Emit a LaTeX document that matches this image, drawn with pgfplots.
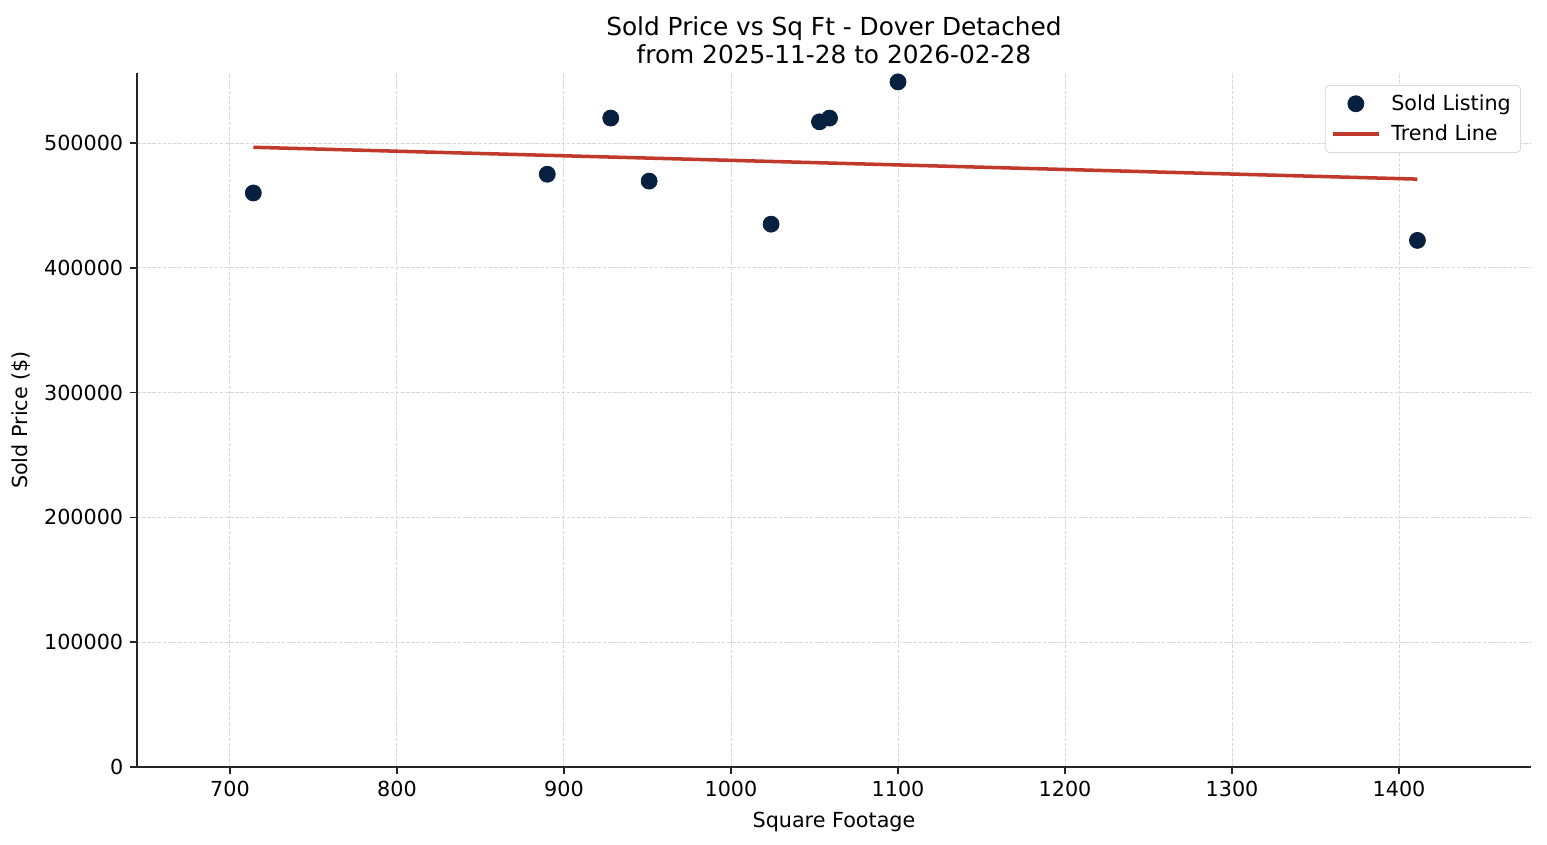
\documentclass[border=0pt]{standalone}
\usepackage{fontspec}
\setmainfont{DejaVu Sans}
\usepackage{pgfplots}
\pgfplotsset{compat=1.18}

\definecolor{navy}{RGB}{8,32,64}
\definecolor{trend}{RGB}{192,57,43}

\begin{document}
\begin{tikzpicture}[x=1pt,y=1pt]
\begin{axis}[
    scale only axis,
    width=713.7pt,
    height=355.3pt,
    xmin=644.3, xmax=1479,
    ymin=0, ymax=556100,
    axis x line*=bottom,
    axis y line*=left,
    axis line style={black!85, line width=0.8pt},
    tick align=outside,
    major tick length=3.5pt,
    tick style={black!85, line width=0.8pt},
    xtick={700,800,...,1400},
    ytick={0,100000,...,500000},
    scaled ticks=false,
    /pgf/number format/fixed,
    /pgf/number format/precision=0,
    /pgf/number format/set thousands separator={},
    /pgf/number format/assume math mode=true,
    ticklabel style={font=\fontsize{10.6}{12.7}\selectfont},
    grid=major,
    grid style={dash pattern=on 1.85pt off 0.8pt, gray!30, line width=0.5pt},
    title={Sold Price vs Sq Ft - Dover Detached\\from 2025-11-28 to 2026-02-28},
    title style={align=center, font=\fontsize{12.7}{14.3}\selectfont, yshift=-5pt},
    xlabel={Square Footage},
    ylabel={Sold Price (\$)},
    xlabel style={yshift=-1pt},
    label style={font=\fontsize{10.6}{12.7}\selectfont},
    legend style={at={(0.9928,0.9827)}, anchor=north east,
        draw=gray!30, rounded corners=2pt, fill=white,
        font=\fontsize{10.6}{12.7}\selectfont, row sep=2pt,
        inner xsep=3pt, inner ysep=2.6pt,
        /tikz/every odd column/.style={column sep=3.5pt}},
    legend image code/.code={%
        \draw[mark repeat=2, mark phase=2, #1]
          plot coordinates {(0pt,0pt) (11.75pt,0pt) (23.5pt,0pt)};},
    legend cell align=left,
]
\addplot[only marks, mark=*, mark size=4.1pt, mark options={fill=navy, draw=navy}]
  coordinates {
    (714,460000) (890,475000) (928,520000) (951,469500) (1024,435000)
    (1053,517000) (1059,520000) (1100,549000) (1411,422000)
  };
\addlegendentry{Sold Listing}
\addplot[trend, line width=1.8pt]
  coordinates {(714,496600) (1411,471100)};
\addlegendentry{Trend Line}
\coordinate (sw) at (rel axis cs:0,0);
\coordinate (ne) at (rel axis cs:1,1);
\end{axis}
\pgfresetboundingbox
\path ([shift={(-70.1pt,-39.9pt)}]sw) rectangle ([shift={(8.2pt,37.4pt)}]ne);
\end{tikzpicture}
\end{document}
